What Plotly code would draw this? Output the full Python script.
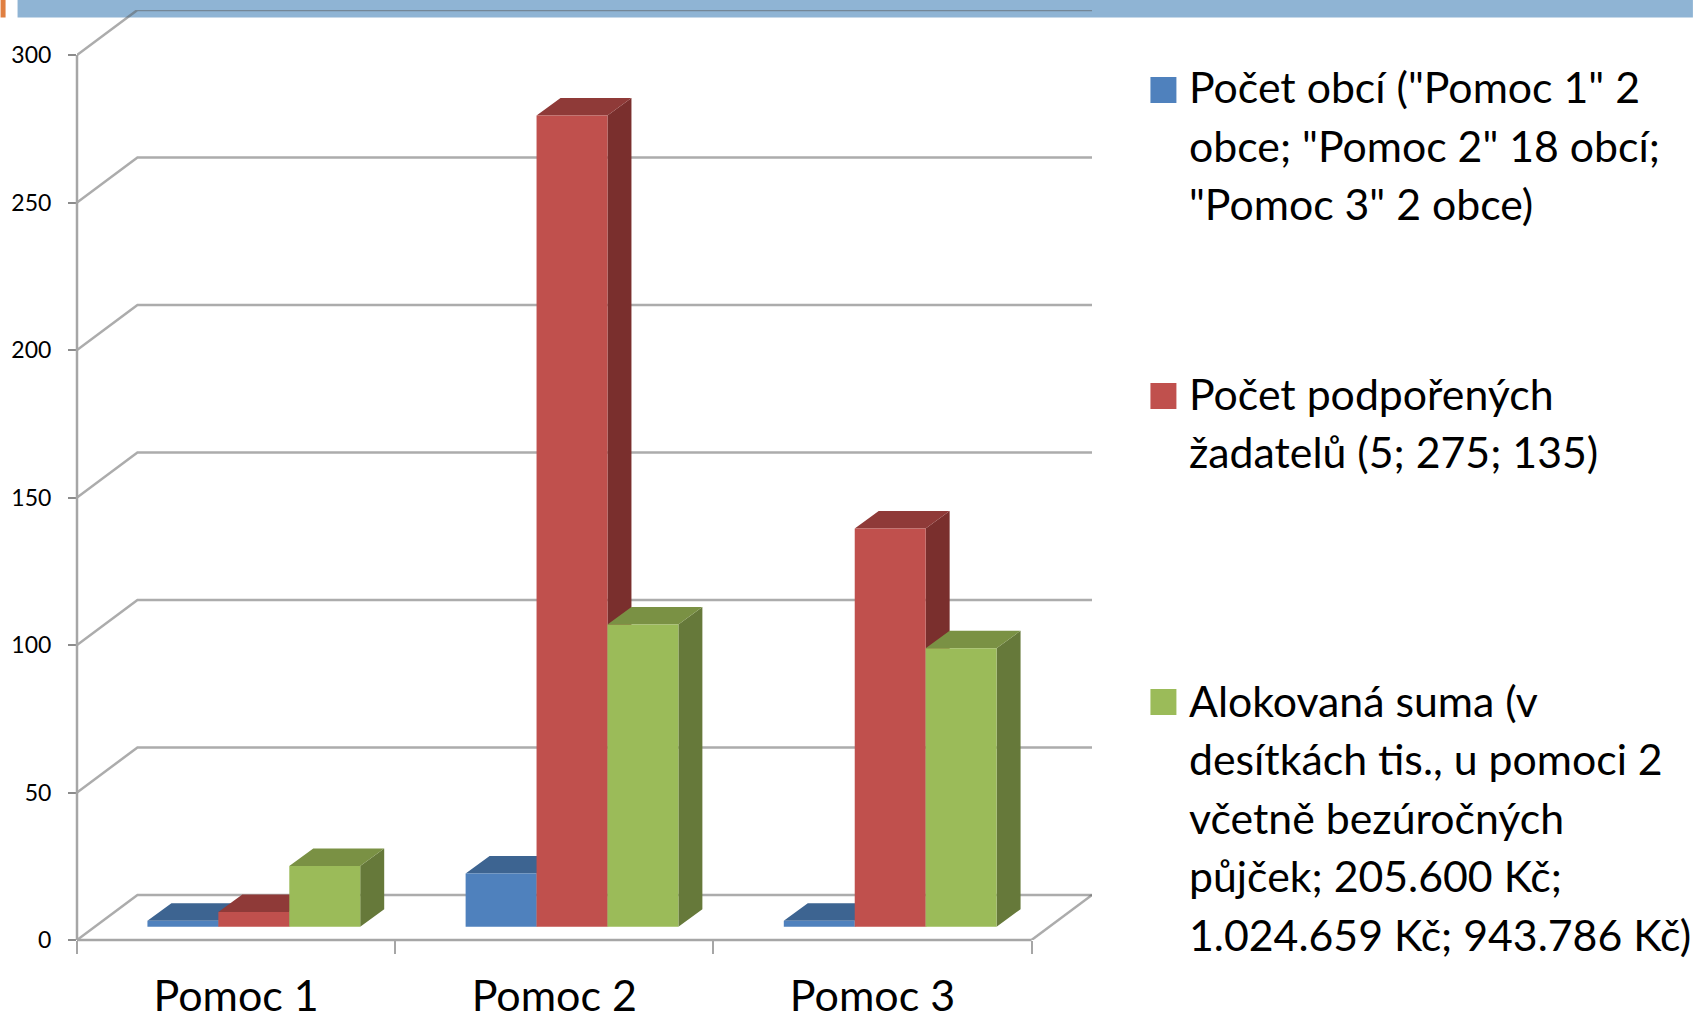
import plotly.graph_objects as go

categories = ["Pomoc 1", "Pomoc 2", "Pomoc 3"]
series_names = ["Počet obcí", "Počet podpořených žadatelů", "Alokovaná suma"]
obce = [2, 18, 2]
zadatele = [5, 275, 135]
suma = [20.56, 102.47, 94.38]
y_ticks = [0, 50, 100, 150, 200, 250, 300]
legend_lines = [
    ['Počet obcí ("Pomoc 1" 2', 'obce; "Pomoc 2" 18 obcí;', '"Pomoc 3" 2 obce)'],
    ["Počet podpořených", "žadatelů (5; 275; 135)"],
    ["Alokovaná suma (v", "desítkách tis., u pomoci 2", "včetně bezúročných",
     "půjček; 205.600 Kč;", "1.024.659 Kč; 943.786 Kč)"],
]

FONT = "Lato"
W, H = 1694, 1020
# front plane of the chart box, in page pixels
L, R, T, B = 76.5, 1032, 55, 940
PX_X = (R - L) / 3
PX_Y = (B - T) / 300
# depth of the box: the plot area also holds the back wall
WALL_PX_X, WALL_PX_Y = 60.5, 45
R2, T2 = R + WALL_PX_X, T - WALL_PX_Y

front = ["#4F81BD", "#C0504D", "#9BBB59"]
top = ["#3D6491", "#8F3A38", "#7A9144"]
side = ["#335478", "#7A2F2D", "#66793A"]

wall_dx, wall_dy = WALL_PX_X / PX_X, WALL_PX_Y / PX_Y
bar_dx, bar_dy = 24 / PX_X, 17.5 / PX_Y
shift_x, base = 17.75 / PX_X, 13.3 / PX_Y
bar_w = 71 / PX_X
centers = [i + 0.5 for i in range(len(categories))]
values = [obce, zadatele, suma]
x_range = [0, 3 + wall_dx]
y_range = [0, 300 + wall_dy]


def px(x):
    return (x - L) / (R2 - L)


def py(y):
    return (B - y) / (B - T2)


GRID = "rgba(90,90,90,0.5)"
AXIS = "#A6A6A6"
fig = go.Figure()

# back wall gridlines and the floor's right edge
gx, gy = [], []
for v in y_ticks:
    gx += [0, wall_dx, 3 + wall_dx, None]
    gy += [v, v + wall_dy, v + wall_dy, None]
gx += [3, 3 + wall_dx, None]
gy += [0, wall_dy, None]
fig.add_trace(go.Scatter(x=gx, y=gy, mode="lines", line=dict(color=GRID, width=2.5),
                         showlegend=False, hoverinfo="skip"))

# depth faces, back to front
for s, vals in enumerate(values):
    sx, sy, tx, ty = [], [], [], []
    for c, v in zip(centers, vals):
        left = c + shift_x + (s - 1.5) * bar_w
        right = left + bar_w
        sx += [right, right + bar_dx, right + bar_dx, right, right, None]
        sy += [base, base + bar_dy, base + v + bar_dy, base + v, base, None]
        tx += [left, left + bar_dx, right + bar_dx, right, left, None]
        ty += [base + v, base + v + bar_dy, base + v + bar_dy, base + v, base + v, None]
    for xs, ys, col in ((sx, sy, side[s]), (tx, ty, top[s])):
        fig.add_trace(go.Scatter(x=xs, y=ys, mode="lines", fill="toself", fillcolor=col,
                                 line=dict(width=0), showlegend=False, hoverinfo="skip"))

# front faces
for s, vals in enumerate(values):
    fig.add_trace(go.Bar(x=centers, y=vals, base=[base] * len(vals), name=series_names[s],
                         width=bar_w, offset=shift_x + (s - 1.5) * bar_w,
                         marker=dict(color=front[s], line=dict(width=0)),
                         xaxis="x2", yaxis="y2", showlegend=False))

shapes = [
    dict(type="rect", xref="paper", yref="paper", x0=px(0), x1=px(5), y0=py(0), y1=py(17.5),
         fillcolor="#E07F41", line_width=0, layer="below"),
    dict(type="rect", xref="paper", yref="paper", x0=px(17), x1=px(W), y0=py(0), y1=py(17.5),
         fillcolor="#8FB4D4", line_width=0, layer="below"),
    # axis lines stop at the front plane, short of the plot area's far edges
    dict(type="line", xref="paper", yref="paper", x0=px(L), x1=px(R), y0=py(B), y1=py(B),
         line=dict(color=AXIS, width=2.5)),
    dict(type="line", xref="paper", yref="paper", x0=px(L), x1=px(L), y0=py(B), y1=py(T),
         line=dict(color=AXIS, width=2.5)),
]

annotations = []
LINE_H = 58.6
block_y = [86.5, 393, 700]
swatch_y = [90, 396, 702]
for s, lines in enumerate(legend_lines):
    shapes.append(dict(type="rect", xref="paper", yref="paper", x0=px(1151), x1=px(1177),
                       y0=py(swatch_y[s] - 13), y1=py(swatch_y[s] + 13),
                       fillcolor=front[s], line_width=0))
    for i, text in enumerate(lines):
        annotations.append(dict(text=text, xref="paper", yref="paper", showarrow=False,
                                x=px(1189), y=py(block_y[s] + i * LINE_H),
                                xanchor="left", yanchor="middle", borderpad=0,
                                font=dict(family=FONT, size=42.8, color="#000000")))

fig.update_layout(
    template="none",
    width=W, height=H, autosize=False, barmode="overlay",
    paper_bgcolor="white", plot_bgcolor="rgba(0,0,0,0)",
    margin=dict(l=L, r=W - R2, t=T2, b=H - B, pad=0, autoexpand=False),
    showlegend=False, shapes=shapes, annotations=annotations,
    font=dict(family=FONT, color="#000000"),
    xaxis=dict(range=x_range, tickmode="array", tickvals=centers, ticktext=categories,
               ticks="", tickfont=dict(size=43), ticklabelstandoff=27, automargin=False,
               showgrid=False, zeroline=False, showline=False,
               minor=dict(tickmode="array", tickvals=[0, 1, 2, 3], ticks="outside",
                          ticklen=13, tickwidth=2, tickcolor=AXIS, showgrid=False)),
    yaxis=dict(range=y_range, tickmode="array", tickvals=y_ticks, ticks="outside",
               ticklen=8, tickwidth=2, tickcolor="#8C8C8C", tickfont=dict(size=23),
               ticklabelstandoff=12, automargin=False, showgrid=False, zeroline=False,
               showline=False),
    xaxis2=dict(range=x_range, overlaying="x", visible=False),
    yaxis2=dict(range=y_range, overlaying="y", visible=False),
)

fig.write_html("out.html", config=dict(displayModeBar=False),
               post_script="document.body.style.margin='0';document.body.style.overflow='hidden';")
